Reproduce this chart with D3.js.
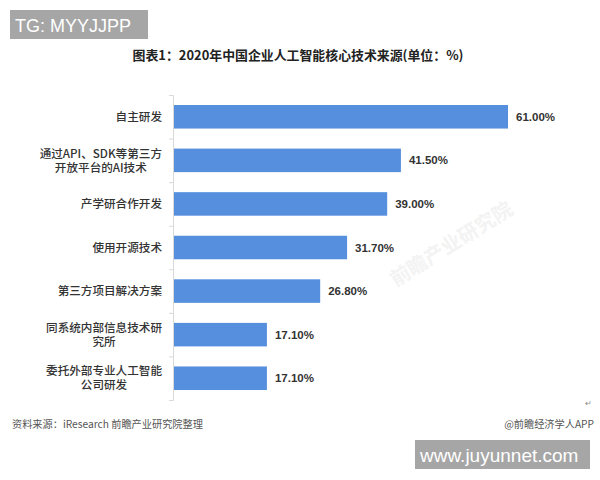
<!DOCTYPE html>
<html>
<head>
<meta charset="utf-8">
<script src="https://cdn.jsdelivr.net/npm/d3@7"></script>
<style>
  html, body { margin: 0; padding: 0; background: #fff; }
  svg { display: block; }
</style>
</head>
<body>
<svg id="chart" width="600" height="480"></svg>
<script>
const categories = [
  ["自主研发"],
  ["通过API、SDK等第三方", "开放平台的AI技术"],
  ["产学研合作开发"],
  ["使用开源技术"],
  ["第三方项目解决方案"],
  ["同系统内部信息技术研", "究所"],
  ["委托外部专业人工智能", "公司研发"]
];
const values = [61.0, 41.5, 39.0, 31.7, 26.8, 17.1, 17.1];
const valueLabels = ["61.00%", "41.50%", "39.00%", "31.70%", "26.80%", "17.10%", "17.10%"];

const svg = d3.select("#chart");
const cjk = "'Noto Sans CJK SC', 'Noto Sans', sans-serif";
const latin = "'Liberation Sans', Arial, sans-serif";

// faint watermark in an empty area
const wm = [[455, 250]];
wm.forEach(([x, y]) => {
  svg.append("text")
    .attr("transform", `translate(${x},${y}) rotate(-32)`)
    .attr("text-anchor", "middle")
    .attr("font-family", cjk)
    .attr("font-size", 20)
    .attr("font-weight", "bold")
    .attr("fill", "#f3f3f3")
    .text("前瞻产业研究院");
});

// TG label
svg.append("rect").attr("x", 10).attr("y", 10).attr("width", 138).attr("height", 29).attr("fill", "#a6a6a6");
svg.append("text").attr("x", 15).attr("y", 31.5)
  .attr("font-family", latin).attr("font-size", 18).attr("fill", "#fff")
  .text("TG: MYYJJPP");

// title
svg.append("text").attr("x", 298).attr("y", 60)
  .attr("text-anchor", "middle")
  .attr("font-family", cjk).attr("font-size", 12.9).attr("font-weight", "bold").attr("fill", "#222")
  .text("图表1：2020年中国企业人工智能核心技术来源(单位：%)");

const x0 = 173;
const x = d3.scaleLinear().domain([0, 61]).range([x0, 508]);
const y = d3.scaleBand().domain(d3.range(categories.length)).range([95, 400]).paddingInner(0.46).paddingOuter(0.23);

// axis line and ticks
const yAxis = d3.axisLeft(d3.scaleLinear().domain([0, categories.length]).range([95, 400]))
  .ticks(categories.length).tickSize(4).tickFormat("");
const ag = svg.append("g").attr("transform", `translate(${x0},0)`).call(yAxis);
ag.selectAll("path").attr("stroke", "#d9d9d9");
ag.selectAll("line").attr("stroke", "#d9d9d9");

// bars
svg.selectAll("rect.bar").data(values).enter().append("rect")
  .attr("class", "bar")
  .attr("x", x0 + 1)
  .attr("y", (d, i) => y(i))
  .attr("width", d => x(d) - x0 - 1)
  .attr("height", y.bandwidth())
  .attr("fill", "#558fdd");

// value labels
svg.selectAll("text.val").data(values).enter().append("text")
  .attr("class", "val")
  .attr("x", d => x(d) + 8)
  .attr("y", (d, i) => y(i) + y.bandwidth() / 2 + 4)
  .attr("font-family", latin).attr("font-size", 11.5).attr("font-weight", "bold").attr("fill", "#333")
  .text((d, i) => valueLabels[i]);

// category labels (one text element per category; lines as tspans)
const labelRight = 162;
const lf = 11.6;
categories.forEach((lines, i) => {
  const cy = y(i) + y.bandwidth() / 2;
  const t = svg.append("text")
    .attr("text-anchor", "end")
    .attr("font-family", cjk).attr("font-size", lf).attr("font-weight", 500).attr("fill", "#333");
  if (lines.length === 1) {
    t.append("tspan").attr("x", labelRight).attr("y", cy + 4.2).text(lines[0]);
  } else {
    const s1 = t.append("tspan").attr("x", labelRight).attr("y", cy - 7 + 4.2).text(lines[0]);
    const s2 = t.append("tspan").attr("x", labelRight).attr("y", cy + 7 + 4.2).text(lines[1]);
    const w1 = s1.node().getComputedTextLength();
    const w2 = s2.node().getComputedTextLength();
    s2.attr("x", labelRight - (w1 - w2) / 2);
  }
});

// source
svg.append("text").attr("x", 12).attr("y", 428)
  .attr("font-family", cjk).attr("font-size", 10.2).attr("fill", "#555")
  .text("资料来源：iResearch 前瞻产业研究院整理");
svg.append("text").attr("x", 592).attr("y", 406)
  .attr("text-anchor", "end")
  .attr("font-family", latin).attr("font-size", 8).attr("fill", "#888")
  .text("↵");
svg.append("text").attr("x", 594).attr("y", 428)
  .attr("text-anchor", "end")
  .attr("font-family", cjk).attr("font-size", 10.2).attr("fill", "#555")
  .text("@前瞻经济学人APP");

// bottom watermark box
svg.append("rect").attr("x", 415).attr("y", 440).attr("width", 175).attr("height", 29).attr("fill", "#a6a6a6");
svg.append("text").attr("x", 420).attr("y", 462)
  .attr("font-family", latin).attr("font-size", 19).attr("fill", "#fff")
  .text("www.juyunnet.com");
</script>
</body>
</html>
